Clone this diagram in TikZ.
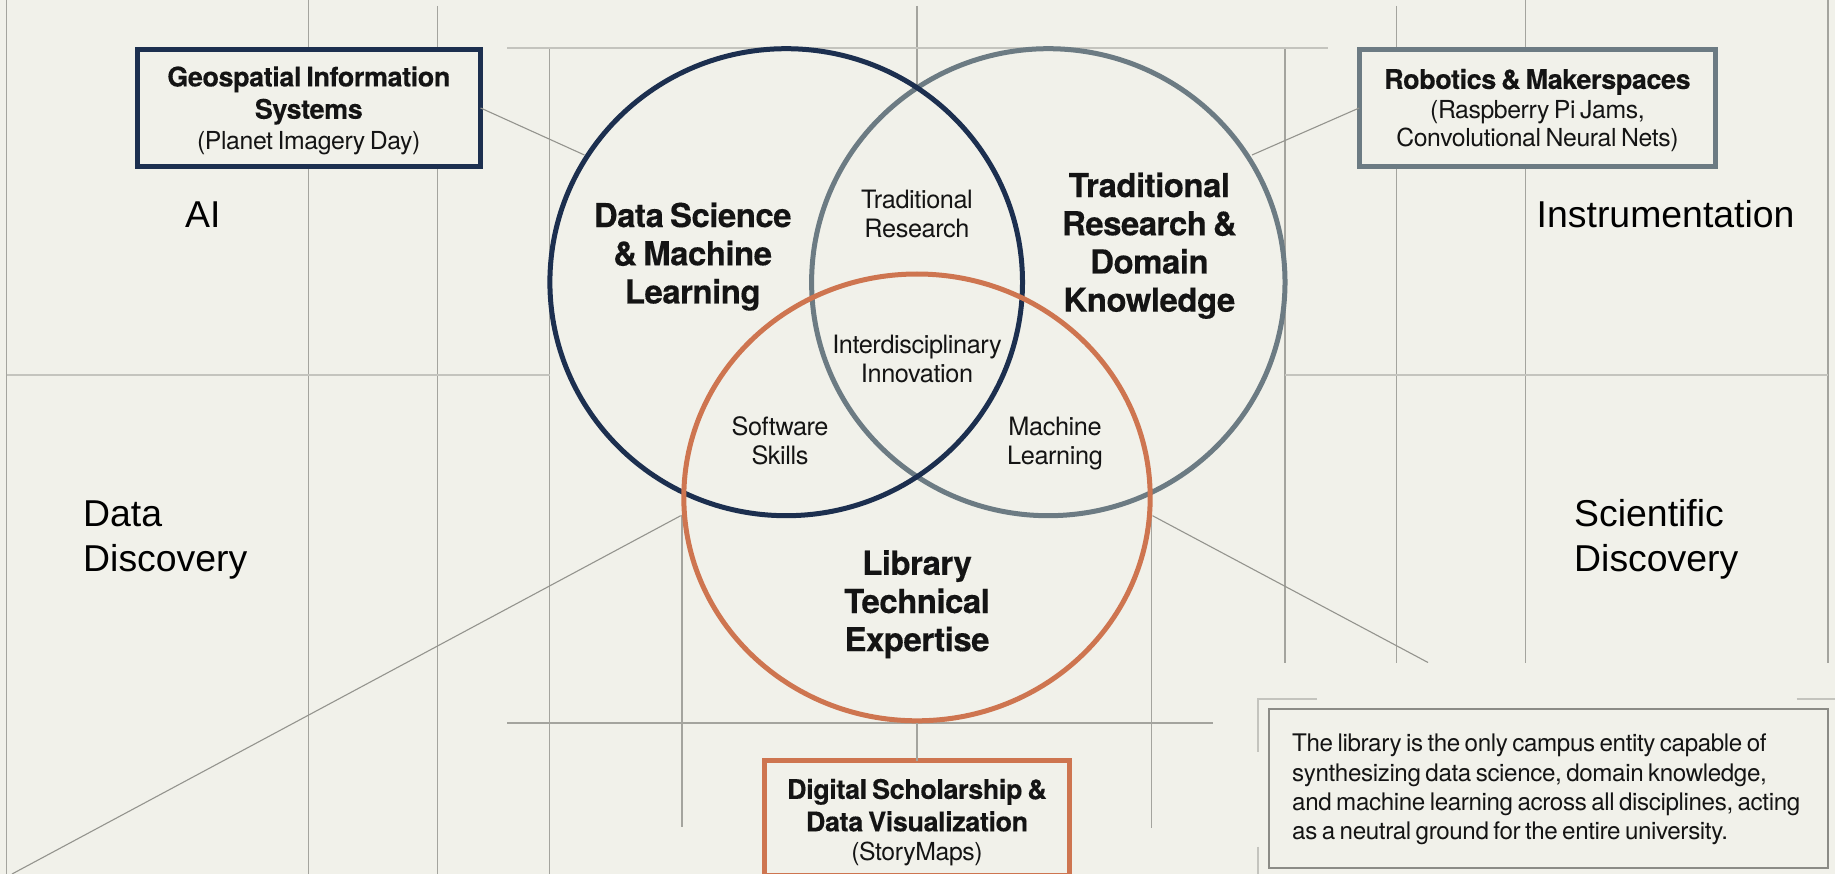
\documentclass[tikz,border=0pt]{standalone}
\usepackage{fontspec}
\setmainfont{TeX Gyre Heros}[LetterSpace=-1.6,WordSpace=0.7,BoldFeatures={FakeBold=0.25}]
\newfontfamily\arl{Liberation Sans}
\usetikzlibrary{shapes.geometric}
\definecolor{bgc}{HTML}{F1F1EA}
\definecolor{navyc}{HTML}{1C2F4F}
\definecolor{grayc}{HTML}{6C7B83}
\definecolor{orangec}{HTML}{CE7550}
\definecolor{gridc}{HTML}{A4A49E}
\definecolor{gridl}{HTML}{C4C4BE}
\definecolor{inkc}{HTML}{141414}
\newcommand{\bl}[1]{{\fontsize{27}{30}\selectfont\bfseries #1}}
\tikzset{
  x=1pt,y=-1pt,
  gridline/.style={draw=gridc,line width=1.2pt},
  gridthick/.style={draw=gridl,line width=2pt},
  leader/.style={draw=gridc!90!black,line width=1.1pt},
  venn/.style={ellipse,draw,line width=5pt,inner sep=0pt,outer sep=0pt},
  infobox/.style={draw,fill=bgc,line width=5pt,inner sep=0pt,outer sep=0pt},
  boxtext/.style={align=center,inner sep=0pt,text=inkc,font=\fontsize{24.8}{30}\selectfont},
  bigtext/.style={align=center,inner sep=0pt,text=inkc,font=\fontsize{33}{38.2}\selectfont\bfseries},
  smalltext/.style={align=center,inner sep=0pt,text=inkc,font=\fontsize{25.3}{29}\selectfont},
  addtext/.style={inner sep=0pt,text=black,font=\arl\fontsize{37.4}{45}\selectfont},
}
\begin{document}
\begin{tikzpicture}
\useasboundingbox (0,0) rectangle (1835,874);
\fill[bgc] (0,0) rectangle (1835,874);

% grid
\draw[gridline] (6.7,0) -- (6.7,874);
\draw[gridline] (308.4,0) -- (308.4,874);
\draw[gridline] (437.3,6) -- (437.3,874);
\draw[gridline] (549.5,48) -- (549.5,874);
\draw[gridline] (682,515) -- (682,827);
\draw[gridline] (1151.7,515) -- (1151.7,828);
\draw[gridline] (1285,48) -- (1285,662.5);
\draw[gridline] (1396.2,6) -- (1396.2,662.5);
\draw[gridline] (1525.4,0) -- (1525.4,662.5);
\draw[gridline] (1828,0) -- (1828,662.5);
\draw[gridline] (917,6) -- (917,88);
\draw[gridthick] (507,48.3) -- (1327.5,48.3);
\draw[gridthick] (6.7,374.5) -- (549.5,374.5);
\draw[gridthick] (1285,375) -- (1828,375);
\draw[gridline] (507,723) -- (1212.6,723);

% callout frame corners
\draw[gridthick] (1317,698.7) -- (1257.5,698.7) -- (1257.5,751.7);
\draw[gridthick] (1257.5,846.7) -- (1257.5,874);
\draw[gridthick] (1796.6,698.7) -- (1835,698.7);

% named free ends
\coordinate (navyend) at (584.4,155);
\coordinate (greyend) at (1252,155);
\coordinate (orgL) at (680.7,515.7);
\coordinate (orgR) at (1152.5,515.7);
\coordinate (farL) at (12,874);
\coordinate (farR) at (1428,662.5);
\coordinate (orgB) at (917,723);

% circles
\node[venn,draw=grayc,minimum width=473.4pt,minimum height=467pt] (grey) at (1048.3,282.2) {};
\node[venn,draw=navyc,minimum width=472.6pt,minimum height=467pt] (navy) at (786.2,282.2) {};
\node[venn,draw=orangec,minimum width=466.4pt,minimum height=446.8pt] (orange) at (917,497.4) {};

% boxes
\node[infobox,draw=navyc,minimum width=343.6pt,minimum height=117.4pt] (geo) at (308.8,108) {};
\node[infobox,draw=grayc,minimum width=356.7pt,minimum height=117.4pt] (robo) at (1537.5,108) {};
\node[infobox,draw=orangec,minimum width=304.5pt,minimum height=114.7pt,anchor=north] (dig) at (917,760.8) {};
\node[draw=gridc!85!black,line width=2pt,minimum width=559.6pt,minimum height=158.4pt,inner sep=0pt] (call) at (1548.6,788.5) {};

% connectors
\draw[leader] (geo.east) -- (navyend);
\draw[leader] (robo.west) -- (greyend);
\draw[leader] (orgL) -- (farL);
\draw[leader] (orgR) -- (farR);
\draw[gridline] (orgB) -- (dig.north);

% box text
\node[boxtext] (geotxt) at (308.8,110.6) {\bl{Geospatial Information}\\[2.3pt]\bl{Systems}\\[.7pt](Planet Imagery Day)};
\node[boxtext] (robotxt) at (1537.4,110.2) {\bl{Robotics \& Makerspaces}\\[-.6pt](Raspberry Pi Jams,\\[-2pt]Convolutional Neural Nets)};
\node[boxtext] (digtxt) at (917,822.4) {\bl{Digital Scholarship \&}\\[2.4pt]\bl{Data Visualization}\\[-.7pt](StoryMaps)};

% venn text
\node[bigtext] (ds) at (692.7,256.6) {Data Science\\\& Machine\\Learning};
\node[bigtext] (tr) at (1149.4,245.7) {Traditional\\Research \&\\Domain\\Knowledge};
\node[bigtext] (lib) at (917,604.3) {Library\\Technical\\Expertise};
\node[smalltext] (t1) at (917,214) {Traditional\\Research};
\node[smalltext] (t2) at (917,358.5) {Interdisciplinary\\Innovation};
\node[smalltext] (t3) at (780,440.8) {Software\\Skills};
\node[smalltext] (t4) at (1055,443.4) {Machine\\Learning};

% callout text
\node[inner sep=0pt,align=left,anchor=west,text=inkc,font=\fontsize{24.2}{29.3}\selectfont] (calltxt) at (1292,789.6) {The library is the only campus entity capable of\\synthesizing data science, domain knowledge,\\and machine learning across all disciplines, acting\\as a neutral ground for the entire university.};

% added labels
\node[addtext,anchor=base west] (ai) at (185,227.5) {AI};
\node[addtext,anchor=base west] (instr) at (1536.5,227.5) {Instrumentation};
\node[addtext,align=left,anchor=west] (dd) at (83,540) {Data\\Discovery};
\node[addtext,align=left,anchor=west] (sd) at (1574,539.5) {Scientific\\Discovery};
\end{tikzpicture}
\end{document}
